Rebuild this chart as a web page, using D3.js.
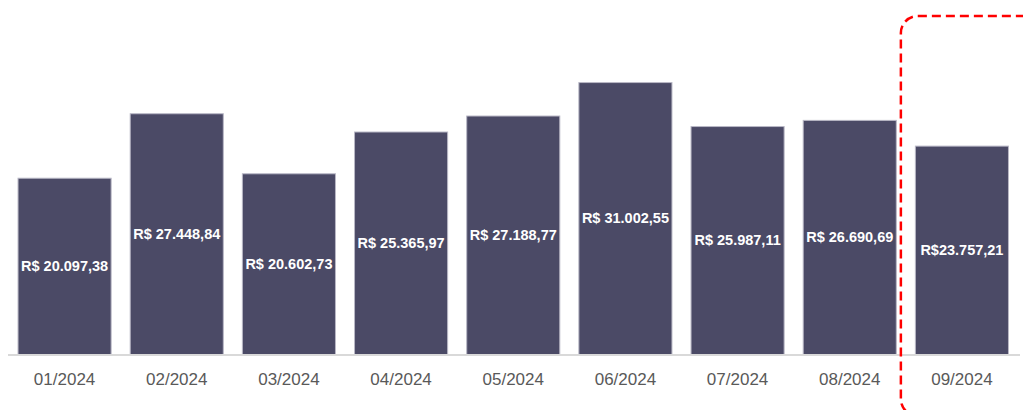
<!DOCTYPE html>
<html>
<head>
<meta charset="utf-8">
<script src="https://cdn.jsdelivr.net/npm/d3@7"></script>
<style>
    html, body { margin: 0; padding: 0; background: #fff; }
    svg { display: block; font-family: "Liberation Sans", Arial, sans-serif; }
</style>
</head>
<body>
<svg id="chart" width="1023" height="410"></svg>
<script>
const months = ["01/2024", "02/2024", "03/2024", "04/2024", "05/2024", "06/2024", "07/2024", "08/2024", "09/2024"];
const values = [20097.38, 27448.84, 20602.73, 25365.97, 27188.77, 31002.55, 25987.11, 26690.69, 23757.21];
const labels = ["R$ 20.097,38", "R$ 27.448,84", "R$ 20.602,73", "R$ 25.365,97", "R$ 27.188,77",
    "R$ 31.002,55", "R$ 25.987,11", "R$ 26.690,69", "R$23.757,21"];
const highlighted = ["09/2024"];

const data = months.map((m, i) => ({month: m, value: values[i], label: labels[i]}));

const svg = d3.select("#chart");
const baseY = 354;

const x = d3.scaleBand()
    .domain(months)
    .range([8.5, 1018])
    .paddingInner(0.17)
    .paddingOuter(0.085);

const y = d3.scaleLinear()
    .domain([0, 35000])
    .range([baseY, 47]);

// bars
svg.append("g")
    .selectAll("rect")
    .data(data)
    .join("rect")
    .attr("x", d => x(d.month))
    .attr("y", d => y(d.value) + 0.5)
    .attr("width", x.bandwidth())
    .attr("height", d => y(0) - y(d.value))
    .attr("fill", "#4b4a66")
    .attr("stroke", "#b9b8c6")
    .attr("stroke-width", 1);

// baseline
svg.append("line")
    .attr("x1", 8)
    .attr("x2", 1020)
    .attr("y1", baseY + 1)
    .attr("y2", baseY + 1)
    .attr("stroke", "#d9d9d9")
    .attr("stroke-width", 2);

// values inside the bars
svg.append("g")
    .selectAll("text")
    .data(data)
    .join("text")
    .attr("x", d => x(d.month) + x.bandwidth() / 2)
    .attr("y", d => (y(d.value) + y(0)) / 2)
    .attr("dy", "0.35em")
    .attr("text-anchor", "middle")
    .attr("fill", "#fff")
    .attr("font-weight", "bold")
    .attr("font-size", 14.5)
    .text(d => d.label);

// month axis
const xAxis = svg.append("g")
    .attr("transform", `translate(0,${baseY + 1})`)
    .call(d3.axisBottom(x).tickSize(0).tickPadding(18));
xAxis.select(".domain").remove();
xAxis.selectAll("text")
    .attr("font-size", 17)
    .attr("fill", "#595959")
    .attr("font-family", "\"Liberation Sans\", Arial, sans-serif");

// dashed highlight box around the last month
svg.append("g")
    .selectAll("rect")
    .data(highlighted)
    .join("rect")
    .attr("x", d => x(d) - 14.5)
    .attr("y", 16)
    .attr("width", 140)
    .attr("height", 400)
    .attr("rx", 17)
    .attr("fill", "none")
    .attr("stroke", "#ff0000")
    .attr("stroke-width", 2.5)
    .attr("stroke-dasharray", "9,5");
</script>
</body>
</html>
